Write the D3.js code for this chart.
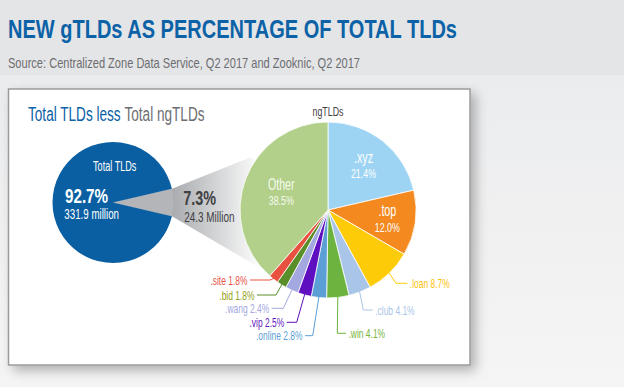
<!DOCTYPE html>
<html>
<head>
<meta charset="utf-8">
<script src="https://cdn.jsdelivr.net/npm/d3@7"></script>
<style>
  body { margin: 0; background: #eeeff0; }
  svg { display: block; font-family: "Liberation Sans", Arial, sans-serif; }
</style>
</head>
<body>
<script>
// values
const totalLabels = ["ngTLDs", "Total TLDs"];
const totalShares = [7.3, 92.7];
const totalCounts = ["24.3 Million", "331.9 million"];

const tldLabels = [".xyz", ".top", ".loan", ".club", ".win", ".online", ".vip", ".wang", ".bid", ".site", "Other"];
const tldShares = [21.4, 12.0, 8.7, 4.1, 4.1, 2.8, 2.5, 2.4, 1.8, 1.8, 38.5];

const tldColors = ["#9dd4f3", "#f3891f", "#fecb09", "#a9c6e8", "#6cb33f", "#5b9fd6", "#5e0fbf", "#a3a8e0", "#5a8e29", "#e8513f", "#b2d08a"];
const calloutText = {".loan": "#fdc20e", ".club": "#a9c6e8", ".win": "#79b43a", ".online": "#5b9fd6",
  ".vip": "#6516c4", ".wang": "#a3a8e0", ".bid": "#94a020", ".site": "#e8513f"};

// where the small slices get their callouts
const calloutLayout = {
  ".loan":   { elbowX: 396,   lineY: 283.3, endX: 407.3 },
  ".club":   { elbowX: 363.3, lineY: 310,   endX: 372.7 },
  ".win":    { elbowX: 337.3, lineY: 333.3, endX: 346 },
  ".online": { elbowX: 312.7, lineY: 335.7, endX: 305 },
  ".vip":    { elbowX: 296.7, lineY: 322.3, endX: 286.7 },
  ".wang":   { elbowX: 283.3, lineY: 308.3, endX: 271.7 },
  ".bid":    { elbowX: 276,   lineY: 295,   endX: 257 },
  ".site":   { elbowX: 270,   lineY: 280,   endX: 250 }
};
const innerLayout = { ".xyz": 57, ".top": 60, "Other": 50 };

const W = 624, H = 387;
const svg = d3.select("body").append("svg").attr("width", W).attr("height", H);
const defs = svg.append("defs");

const bg = defs.append("linearGradient").attr("id", "bg").attr("x1", 0).attr("x2", 0).attr("y1", 0).attr("y2", 1);
bg.append("stop").attr("offset", 0).attr("stop-color", "#e9eaec");
bg.append("stop").attr("offset", 1).attr("stop-color", "#f5f5f5");

const shadow = defs.append("filter").attr("id", "shadow")
  .attr("x", "-10%").attr("y", "-10%").attr("width", "130%").attr("height", "130%");
shadow.append("feDropShadow").attr("dx", 5).attr("dy", 5).attr("stdDeviation", 6)
  .attr("flood-color", "#000").attr("flood-opacity", 0.28);

const fade = defs.append("linearGradient").attr("id", "fade")
  .attr("gradientUnits", "userSpaceOnUse").attr("x1", 172).attr("x2", 262).attr("y1", 0).attr("y2", 0);
fade.append("stop").attr("offset", 0).attr("stop-color", "#a9abae");
fade.append("stop").attr("offset", 1).attr("stop-color", "#ffffff");

// background
svg.append("rect").attr("width", W).attr("height", H).attr("fill", "url(#bg)");
svg.append("rect").attr("width", W).attr("height", 75).attr("fill", "#e4e5e7");

svg.append("text")
  .attr("x", 8).attr("y", 38.3)
  .attr("font-size", 25).attr("font-weight", "bold").attr("fill", "#0b62a6")
  .attr("textLength", 449).attr("lengthAdjust", "spacingAndGlyphs")
  .text("NEW gTLDs AS PERCENTAGE OF TOTAL TLDs");

svg.append("text")
  .attr("x", 8).attr("y", 68.3)
  .attr("font-size", 14.5).attr("fill", "#6d6e71")
  .attr("textLength", 352).attr("lengthAdjust", "spacingAndGlyphs")
  .text("Source: Centralized Zone Data Service, Q2 2017 and Zooknic, Q2 2017");

// panel
svg.append("rect")
  .attr("x", 8.5).attr("y", 89).attr("width", 461.5).attr("height", 276)
  .attr("fill", "#fff").attr("stroke", "#9b9b9b").attr("stroke-width", 1.5)
  .attr("filter", "url(#shadow)");

// narrow text helper: squeezes the glyphs like a condensed face
function ctext(g, x, y, str, size, opts = {}) {
  const t = g.append("text")
    .attr("transform", `translate(${x},${y}) scale(${opts.sx || 0.65},1)`)
    .attr("font-size", size)
    .attr("fill", opts.fill || "#fff")
    .attr("text-anchor", opts.anchor || "start")
    .text(str);
  if (opts.bold) t.attr("font-weight", "bold");
  return t;
}

const heading = svg.append("text")
  .attr("transform", "translate(28,121) scale(0.68,1)")
  .attr("font-size", 20);
heading.append("tspan").attr("fill", "#0b62a6").text("Total TLDs less ");
heading.append("tspan").attr("fill", "#6d6e71").text("Total ngTLDs");

// left pie
const leftC = [113, 202.5], leftR = 60.5;
const ngAngle = totalShares[0] / d3.sum(totalShares) * 2 * Math.PI;
const leftPie = d3.pie().sort(null)
  .startAngle(Math.PI / 2 - ngAngle / 2)
  .endAngle(Math.PI / 2 - ngAngle / 2 + 2 * Math.PI)(totalShares);
const leftArc = d3.arc().innerRadius(0).outerRadius(leftR);

// right pie
const rightC = [328, 210], rightR = 88;
const rightPie = d3.pie().sort(null)(tldShares);
const rightArc = d3.arc().innerRadius(0).outerRadius(rightR);

function onCircle(c, r, a) {
  return [c[0] + r * Math.sin(a), c[1] - r * Math.cos(a)];
}

// connector band from the 7.3% wedge to the ngTLD pie
const otherStart = rightPie[tldLabels.indexOf("Other")].startAngle;
const band = [
  leftC,
  onCircle(leftC, leftR, leftPie[0].startAngle),
  onCircle(rightC, rightR + 6, -56 * Math.PI / 180),
  rightC,
  onCircle(rightC, rightR - 2, otherStart),
  onCircle(leftC, leftR, leftPie[0].endAngle)
];
svg.append("path").attr("d", d3.line()(band) + "Z").attr("fill", "url(#fade)");

const lg = svg.append("g").attr("transform", `translate(${leftC})`);
lg.selectAll("path").data(leftPie).enter().append("path")
  .attr("d", leftArc)
  .attr("fill", (d, i) => i === 0 ? "#b3b5b8" : "#0a5fa2");

ctext(svg, 114.7, 171, totalLabels[1], 14, { anchor: "middle" });
ctext(svg, 65, 203.3, totalShares[1].toFixed(1) + "%", 20, { bold: true, sx: 0.76 });
ctext(svg, 64.3, 219, totalCounts[1], 15);
ctext(svg, 183.3, 205, totalShares[0].toFixed(1) + "%", 19.5, { bold: true, sx: 0.74, fill: "#404143" });
ctext(svg, 184.3, 221.7, totalCounts[0], 15.5, { sx: 0.64, fill: "#404143" });

const rg = svg.append("g").attr("transform", `translate(${rightC})`);
rg.selectAll("path").data(rightPie).enter().append("path")
  .attr("d", rightArc)
  .attr("fill", (d, i) => tldColors[i])
  .attr("stroke", "#fff").attr("stroke-width", 0.8);

ctext(svg, rightC[0], 116, totalLabels[0], 13, { anchor: "middle", sx: 0.68, fill: "#414042" });

// labels inside the big slices
rightPie.forEach((d, i) => {
  const name = tldLabels[i];
  if (!(name in innerLayout)) return;
  const rho = innerLayout[name];
  const c = d3.arc().innerRadius(rho).outerRadius(rho).centroid(d);
  const x = rightC[0] + c[0], y = rightC[1] + c[1];
  const fill = name === "Other" ? "#f7faf0" : "#fff";
  ctext(svg, x, y - 2.5, name, 16, { anchor: "middle", sx: name === "Other" ? 0.66 : 0.67, fill: fill });
  ctext(svg, x, y + 12.9, tldShares[i].toFixed(1) + "%", 13, { anchor: "middle", sx: 0.68, fill: fill });
});

// callouts for the small slices
rightPie.forEach((d, i) => {
  const name = tldLabels[i];
  const lay = calloutLayout[name];
  if (!lay) return;
  const mid = (d.startAngle + d.endAngle) / 2;
  const p0 = onCircle(rightC, rightR - 1, mid);
  svg.append("path")
    .attr("d", d3.line()([p0, [lay.elbowX, lay.lineY], [lay.endX, lay.lineY]]))
    .attr("fill", "none").attr("stroke", tldColors[i]).attr("stroke-width", 1);
  const leftSide = lay.endX < lay.elbowX;
  ctext(svg, leftSide ? lay.endX - 2.5 : lay.endX + 2.5, lay.lineY + 4.5,
    `${name} ${tldShares[i].toFixed(1)}%`, 13,
    { anchor: leftSide ? "end" : "start", fill: calloutText[name] });
});
</script>
</body>
</html>
